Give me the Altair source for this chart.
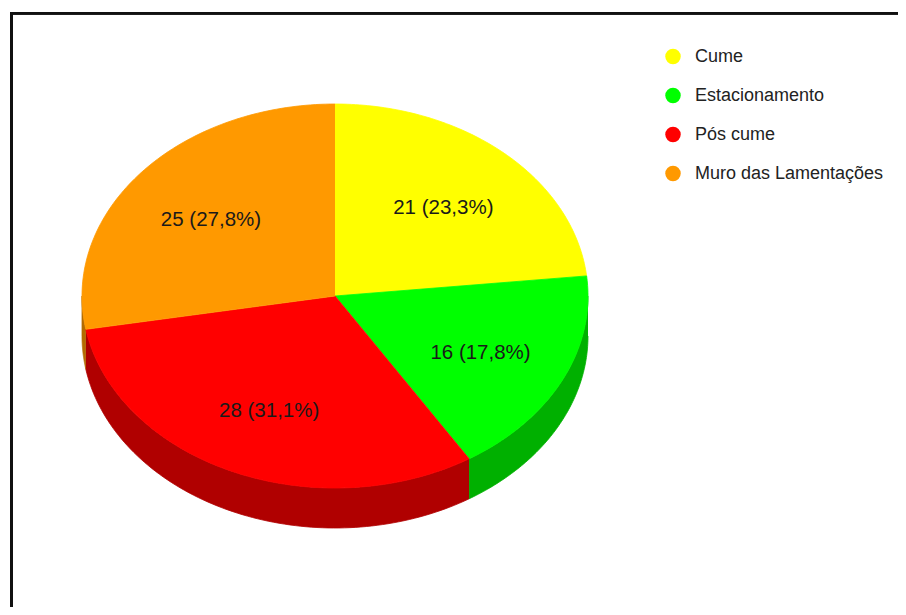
import altair as alt
import pandas as pd

categories = ["Cume", "Estacionamento", "Pós cume", "Muro das Lamentações"]
values = [21, 16, 28, 25]
top_colors = ["#ffff00", "#00ff00", "#ff0000", "#ff9900"]
side_colors = ["#b3b300", "#00b000", "#b00000", "#b36b00"]

# layout constants (chart pixel space)
W, H = 890, 599
CX, CY, RX, RY, DEPTH = 327, 288, 253, 192, 40
N = 90

df = pd.DataFrame({"cat": categories, "value": values, "idx": list(range(len(categories)))})

base = alt.Chart(df).transform_window(
    cum="sum(value)", sort=[alt.SortField("idx")], frame=[None, 0]
).transform_joinaggregate(total="sum(value)").transform_calculate(
    a1="2*PI*datum.cum/datum.total",
    a0="2*PI*(datum.cum-datum.value)/datum.total",
    pct="datum.value/datum.total",
)

xs = alt.Scale(domain=[0, W])
ys = alt.Scale(domain=[0, H], reverse=True)
color_scale = alt.Scale(domain=categories, range=top_colors)
side_scale = alt.Scale(domain=categories, range=side_colors)

# side walls (visible front half, angles between PI/2 and 3PI/2)
sides = base.transform_calculate(
    s0="max(datum.a0, PI/2)", s1="min(datum.a1, 3*PI/2)"
).transform_filter("datum.s1 > datum.s0").transform_calculate(
    pts=f"sequence(0, {2*N+2})"
).transform_flatten(["pts"]).transform_calculate(
    th=f"datum.pts <= {N} ? datum.s0 + (datum.s1-datum.s0)*datum.pts/{N} : datum.s1 - (datum.s1-datum.s0)*(datum.pts-{N+1})/{N}",
    px=f"{CX} + {RX}*sin(datum.th)",
    py=f"{CY} - {RY}*cos(datum.th) + (datum.pts > {N} ? {DEPTH} : 0)",
).mark_line(filled=True, strokeWidth=0.8).encode(
    x=alt.X("px:Q", scale=xs, axis=None),
    y=alt.Y("py:Q", scale=ys, axis=None),
    fill=alt.Fill("cat:N", scale=side_scale, legend=None),
    stroke=alt.Stroke("cat:N", scale=side_scale, legend=None),
    detail="cat:N",
    order=alt.Order("pts:Q"),
)

tops = base.transform_calculate(
    pts=f"sequence(-1, {N+1})"
).transform_flatten(["pts"]).transform_calculate(
    th=f"datum.a0 + (datum.a1-datum.a0)*max(datum.pts,0)/{N}",
    px=f"datum.pts < 0 ? {CX} : {CX} + {RX}*sin(datum.th)",
    py=f"datum.pts < 0 ? {CY} : {CY} - {RY}*cos(datum.th)",
).mark_line(filled=True, strokeWidth=0.8).encode(
    x=alt.X("px:Q", scale=xs, axis=None),
    y=alt.Y("py:Q", scale=ys, axis=None),
    fill=alt.Fill("cat:N", scale=color_scale, sort=categories,
                  legend=alt.Legend(title=None, orient="none", legendX=656, legendY=39.5,
                                    symbolType="circle", symbolSize=240, symbolStrokeWidth=0,
                                    labelFont="Liberation Sans", labelFontSize=18,
                                    labelColor="#222222", labelOffset=13, rowPadding=21,
                                    labelLimit=0, padding=0)),
    stroke=alt.Stroke("cat:N", scale=color_scale, legend=None),
    detail="cat:N",
    order=alt.Order("pts:Q"),
)

labels = base.transform_calculate(
    mid="(datum.a0+datum.a1)/2",
    px=f"{CX} + 0.64*{RX}*sin(datum.mid)",
    py=f"{CY} - 0.64*{RY}*cos(datum.mid) + 3",
    txt="datum.value + ' (' + replace(format(datum.pct*100, '.1f'), '.', ',') + '%)'",
).mark_text(font="Liberation Sans", fontSize=20.5, color="#1a1a1a").encode(
    x=alt.X("px:Q", scale=xs, axis=None),
    y=alt.Y("py:Q", scale=ys, axis=None),
    text="txt:N",
)

frame_v = alt.Chart(df).mark_rule(color="#111111", strokeWidth=2.5).encode(
    x=alt.value(3.5), y=alt.value(4), y2=alt.value(H)
)
frame_h = alt.Chart(df).mark_rule(color="#111111", strokeWidth=2.5).encode(
    x=alt.value(2.3), x2=alt.value(W), y=alt.value(5.2)
)

chart = alt.layer(sides, tops, labels, frame_v, frame_h).resolve_scale(
    fill="independent", stroke="independent"
).properties(
    width=W, height=H, padding=0, autosize=alt.AutoSizeParams(type="none")
).configure_view(stroke=None)

chart.save("out.html", embed_options={"renderer": "svg", "actions": False})
